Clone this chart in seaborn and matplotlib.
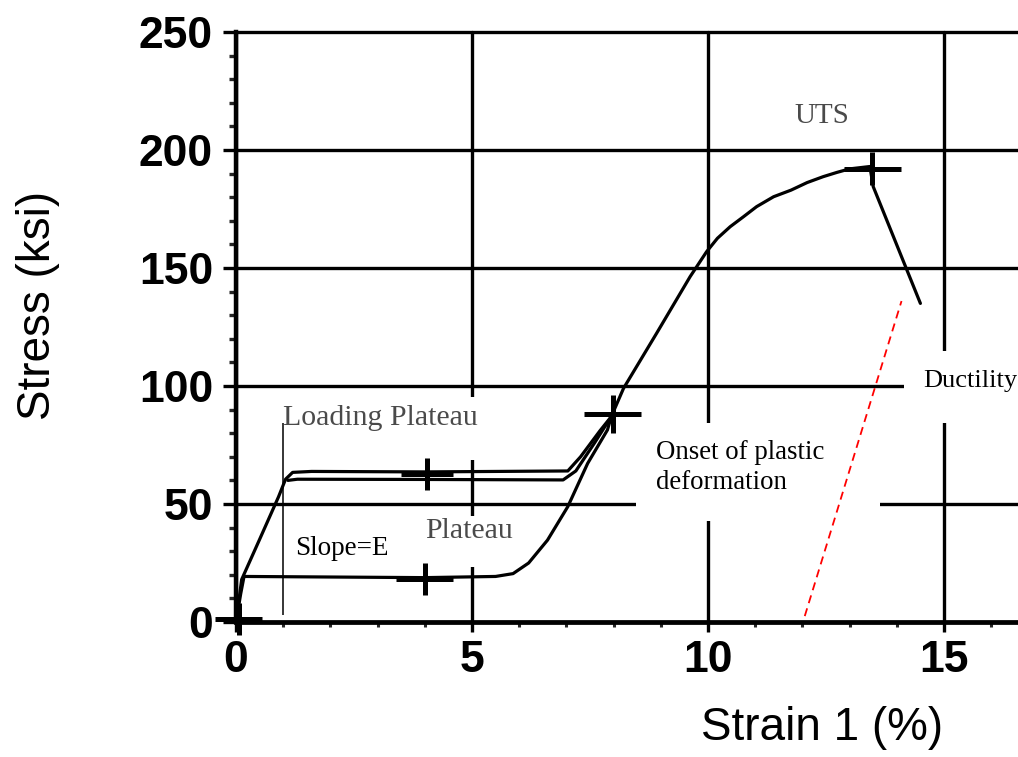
import matplotlib
matplotlib.use("Agg")
import matplotlib.pyplot as plt
import seaborn as sns
import pandas as pd
from matplotlib.patches import Rectangle
from matplotlib.ticker import MultipleLocator

# ---------------- data ----------------
# first loading: elastic rise, loading plateau, up to onset of plastic deformation
load_strain = [0.0, 0.12, 0.5, 0.9, 1.05, 1.2, 1.6, 4.0, 7.03, 7.3, 7.71, 7.95]
load_stress = [0.0, 18.0, 35.0, 53.0, 60.5, 63.4, 63.8, 63.6, 64.0, 70.0, 81.0, 87.0]

# unloading: back down to the lower (unloading) plateau and to zero
unload_strain = [7.95, 7.87, 7.45, 7.03, 6.6, 6.2, 5.87, 5.5, 4.0, 0.17, 0.1, 0.0]
unload_stress = [87.0, 81.4, 67.2, 48.9, 34.7, 25.0, 20.5, 19.3, 18.8, 19.3, 12.0, 0.0]

# reloading: second plateau, then up to UTS and failure
reload_strain = [1.1, 1.3, 4.0, 6.93, 7.2, 7.6, 7.95, 8.21, 8.91, 9.62, 9.97, 10.2,
                 10.47, 10.75, 11.03, 11.39, 11.76, 12.1, 12.44, 12.73, 13.0, 13.43,
                 13.5, 14.5]
reload_stress = [60.0, 60.5, 60.4, 60.2, 64.0, 76.0, 87.0, 99.0, 122.3, 146.3, 156.9, 162.6,
                 167.5, 171.7, 176.0, 180.2, 183.0, 186.2, 188.7, 190.5, 192.0, 193.0,
                 184.5, 135.0]

# ductility offset line (red dashed)
ductility_strain = [12.05, 14.1]
ductility_stress = [2.5, 136.0]

# cross marks
cross_strain = [0.06, 4.05, 4.0, 7.98, 13.48]
cross_stress = [1.3, 62.7, 18.2, 88.0, 192.0]

x_ticks = [0, 5, 10, 15]
y_ticks = [0, 50, 100, 150, 200, 250]

# ---------------- style ----------------
sns.set_style("ticks")
plt.rcParams["font.family"] = ["Liberation Sans", "DejaVu Sans"]
SERIF = ["Liberation Serif", "DejaVu Serif"]
GRAY_TXT = "#4a4a4a"

W, H = 1018, 757
fig = plt.figure(figsize=(W / 100, H / 100), dpi=100)
ax = fig.add_axes([236 / W, 135 / H, 782 / W, 590 / H])
ax.set_xlim(0, 782 / 47.2)
ax.set_ylim(0, 250)

# grid
ax.set_axisbelow(True)
ax.set_xticks(x_ticks)
ax.set_yticks(y_ticks)
ax.grid(True, color="black", lw=2.4)
for gl in ax.get_xgridlines() + ax.get_ygridlines():
    gl.set_clip_on(False)
ax.xaxis.set_minor_locator(MultipleLocator(1))
ax.yaxis.set_minor_locator(MultipleLocator(10))

for s in ["top", "right"]:
    ax.spines[s].set_visible(False)
ax.spines["left"].set_linewidth(3.2)
ax.spines["bottom"].set_linewidth(3.4)
ax.spines["left"].set_color("black")
ax.spines["bottom"].set_color("black")

ax.tick_params(axis="x", which="major", direction="out", length=7, width=2.4,
               pad=6, labelsize=32, colors="black")
ax.tick_params(axis="x", which="minor", direction="out", length=3.5, width=2.2)
ax.tick_params(axis="y", which="major", direction="out", length=9.5, width=2.4,
               pad=7, labelsize=32, colors="black")
ax.tick_params(axis="y", which="minor", direction="out", length=5, width=2.4)
for lab in ax.get_xticklabels() + ax.get_yticklabels():
    lab.set_fontweight("bold")

# white backgrounds of the annotation labels (cover grid lines as in the scan)
label_boxes = [
    (1.03, 68.6, 4.4, 26.7),   # Loading Plateau
    (1.03, 23.5, 4.85, 21.5),  # Slope=E / Plateau
    (8.47, 42.8, 5.17, 41.5),  # Onset of plastic deformation
    (14.15, 84.3, 2.6, 30.5),  # Ductility
]
for (bx, by, bw, bh) in label_boxes:
    ax.add_patch(Rectangle((bx, by), bw, bh, facecolor="white", edgecolor="none", zorder=1))

# curves
for xs, ys in [(load_strain, load_stress), (unload_strain, unload_stress),
               (reload_strain, reload_stress)]:
    df = pd.DataFrame({"Strain 1 (%)": xs, "Stress (ksi)": ys})
    sns.lineplot(data=df, x="Strain 1 (%)", y="Stress (ksi)", sort=False,
                 estimator=None, color="black", lw=2.3, ax=ax, zorder=3)

df_d = pd.DataFrame({"Strain 1 (%)": ductility_strain, "Stress (ksi)": ductility_stress})
sns.lineplot(data=df_d, x="Strain 1 (%)", y="Stress (ksi)", sort=False,
             estimator=None, color="#ff0000", lw=1.3, ax=ax, zorder=3)
ax.lines[-1].set_dashes((4.5, 3.0))

# crosses
eb = ax.errorbar(cross_strain, cross_stress,
                 xerr=[0.5, 0.55, 0.6, 0.6, 0.6], yerr=[6.8, 6.8, 6.8, 8.0, 7.0],
                 fmt="none", ecolor="black", elinewidth=3.6, capsize=0, zorder=4)
for coll in eb.lines[2]:
    coll.set_clip_on(False)

# slope reference line
ax.vlines(1.0, 3.0, 84.5, color="black", lw=1.1, zorder=3)

# annotation text
ax.text(1.0, 83.5, "Loading Plateau", family=SERIF, fontsize=21.5, color=GRAY_TXT, zorder=5)
ax.text(1.25, 28.4, "Slope=E", family=SERIF, fontsize=19.5, color="black", zorder=5)
ax.text(4.0, 35.6, "Plateau", family=SERIF, fontsize=21.5, color=GRAY_TXT, zorder=5)
ax.text(11.84, 211.4, "UTS", family=SERIF, fontsize=21, color=GRAY_TXT, zorder=5)
ax.text(8.89, 69.2, "Onset of plastic", family=SERIF, fontsize=19.3, color="black", zorder=5)
ax.text(8.89, 56.4, "deformation", family=SERIF, fontsize=19.3, color="black", zorder=5)
ax.text(14.56, 99.6, "Ductility", family=SERIF, fontsize=19, color="black", zorder=5)

# axis labels
ax.set_xlabel("Strain 1 (%)", fontsize=33, color="black")
ax.set_ylabel("Stress (ksi)", fontsize=33, color="black")
ax.xaxis.label.set_va("center")
ax.yaxis.label.set_va("center")
ax.xaxis.set_label_coords((822 - 236) / 782, (622 - 728) / 590)
ax.yaxis.set_label_coords((38 - 236) / 782, (622 - 305) / 590)

fig.savefig("out.png", dpi=100, facecolor="white")
